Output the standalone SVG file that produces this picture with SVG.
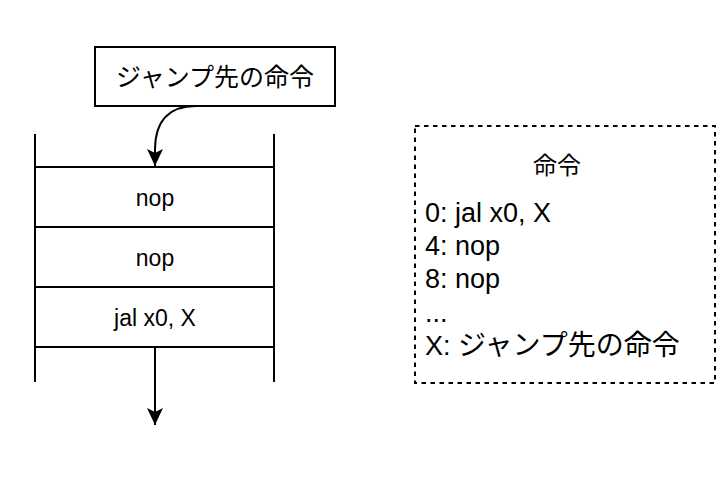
<svg xmlns="http://www.w3.org/2000/svg" width="726" height="477" viewBox="0 0 726 477">
<defs>
<style>
.ln{stroke:#000;stroke-width:2;fill:none}
.box{stroke:#000;stroke-width:2;fill:#fff}
.t{font-family:"Liberation Sans","Noto Sans CJK JP",sans-serif;fill:#000}
.jp{font-family:"Noto Sans CJK JP","Liberation Sans",sans-serif;fill:#000}
</style>
<marker id="arr" viewBox="0 0 18 16" refX="17" refY="8" markerWidth="18" markerHeight="16" markerUnits="userSpaceOnUse" orient="auto">
<path d="M0,0 L17,8 L0,16 L4,8 Z" fill="#000"/>
</marker>
</defs>
<rect width="726" height="477" fill="#fff"/>
<g id="jump-target">
<rect class="box" x="95" y="47" width="240" height="59"/>
<text class="jp" x="215" y="86" font-size="25" text-anchor="middle">ジャンプ先の命令</text>
</g>
<g id="memory-stack">
<line class="ln" x1="35" y1="134" x2="35" y2="382"/>
<line class="ln" x1="274" y1="134" x2="274" y2="382"/>
<line class="ln" x1="35" y1="167" x2="274" y2="167"/>
<line class="ln" x1="35" y1="227" x2="274" y2="227"/>
<line class="ln" x1="35" y1="287" x2="274" y2="287"/>
<line class="ln" x1="35" y1="347" x2="274" y2="347"/>
</g>
<g id="row-nop1"><text class="t" x="155" y="206" font-size="23" text-anchor="middle">nop</text></g>
<g id="row-nop2"><text class="t" x="155" y="266" font-size="23" text-anchor="middle">nop</text></g>
<g id="row-jal"><text class="t" x="155" y="326" font-size="23" text-anchor="middle">jal x0, X</text></g>
<g id="instruction-list">
<rect x="415" y="126" width="300" height="257" fill="none" stroke="#000" stroke-width="2" stroke-dasharray="4.5 4.5"/>
<text class="jp" x="557" y="174" font-size="24" text-anchor="middle">命令</text>
<text class="t" font-size="27">
<tspan x="425" y="222">0: jal x0, X</tspan>
<tspan x="425" y="255">4: nop</tspan>
<tspan x="425" y="288">8: nop</tspan>
<tspan x="425" y="322">...</tspan>
<tspan x="425" y="355">X: <tspan font-size="28">ジャンプ先の命令</tspan></tspan>
</text>
</g>
<g id="connectors">
<path class="ln" d="M196,106 C172,106 155,118 155,150 L155,166" marker-end="url(#arr)"/>
<line class="ln" x1="155" y1="347" x2="155" y2="425" marker-end="url(#arr)"/>
</g>
</svg>
